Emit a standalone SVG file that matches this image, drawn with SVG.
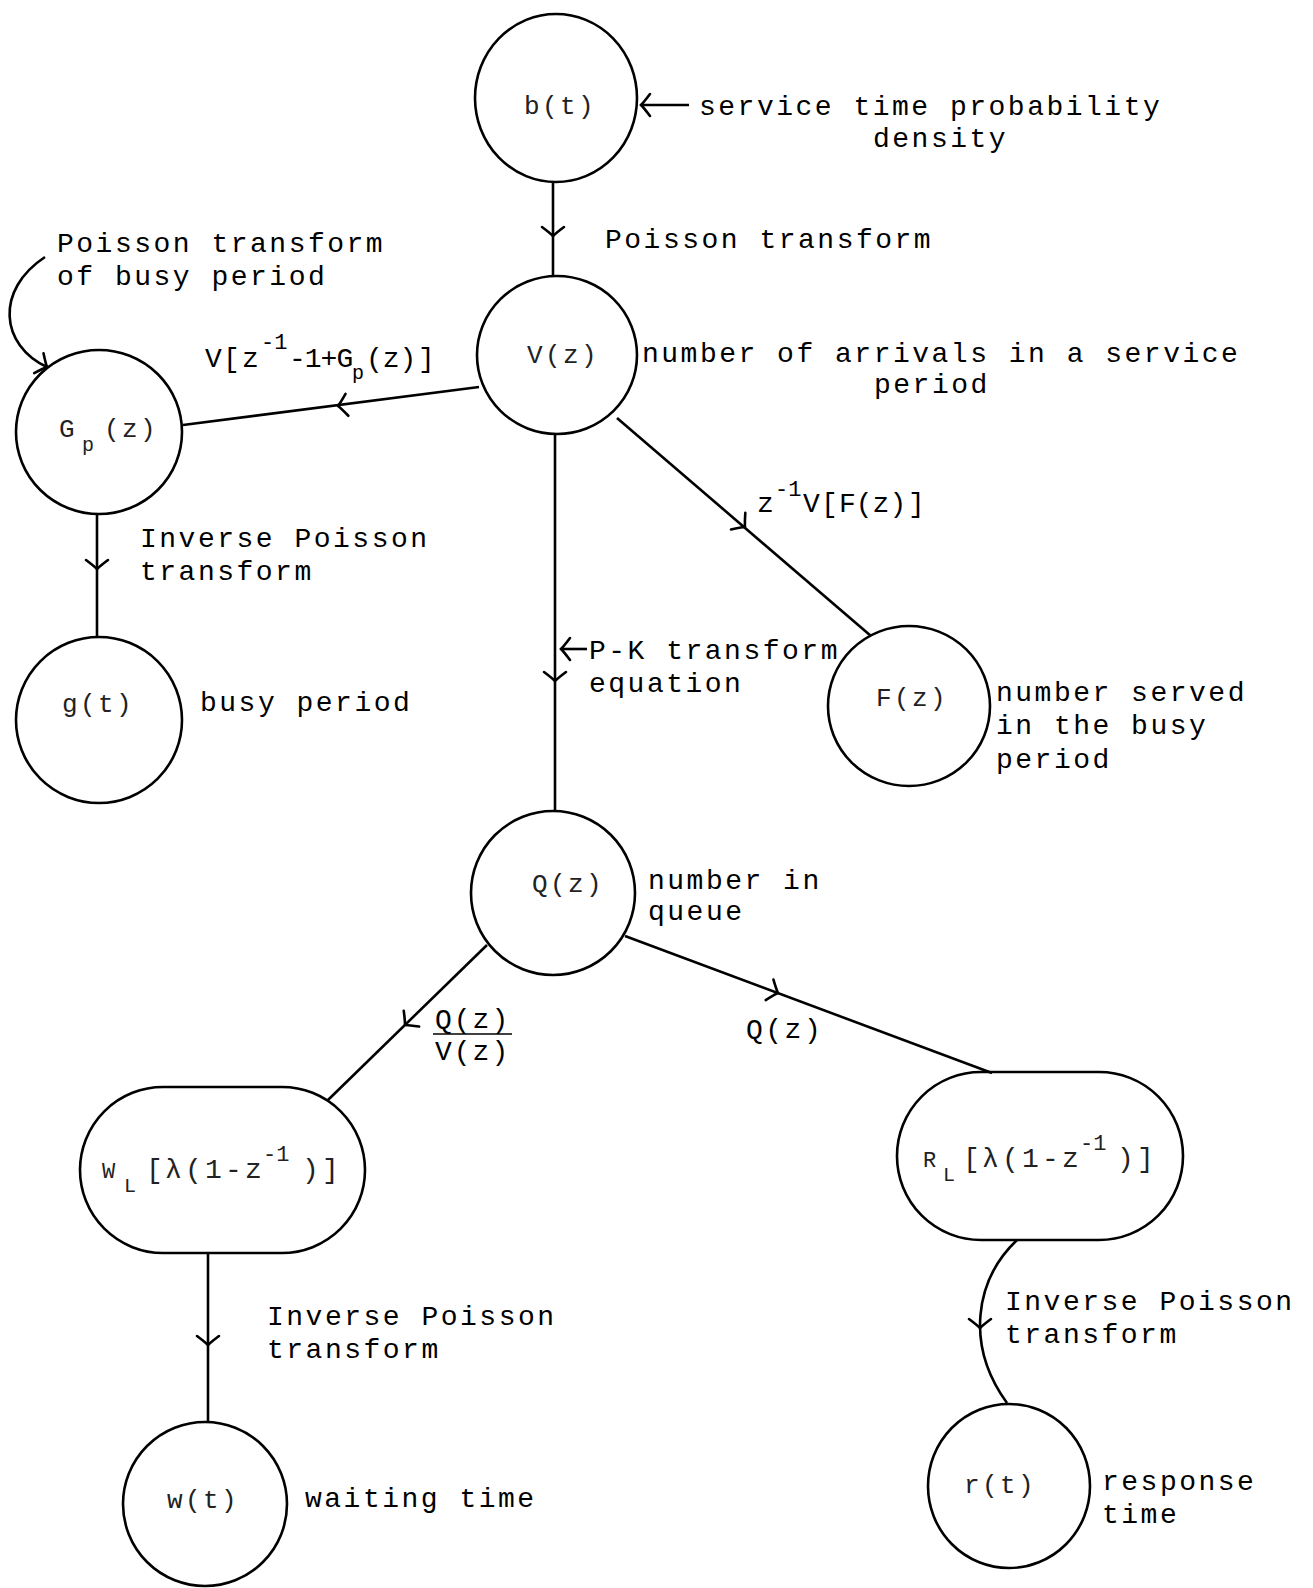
<svg xmlns="http://www.w3.org/2000/svg" width="1313" height="1588" viewBox="0 0 1313 1588">
  <style>
    .node { fill: none; stroke: #000; stroke-width: 2.6; }
    .edge { fill: none; stroke: #000; stroke-width: 2.6; }
    .chev { fill: none; stroke: #000; stroke-width: 2.6; stroke-linejoin: round; stroke-linecap: round; }
    text { font-family: "Liberation Mono", "Courier New", monospace; fill: #000; }
    .lab { font-size: 28px; letter-spacing: 2.5px; }
    .nl { font-size: 26px; letter-spacing: 2.4px; fill: #222; }
    .sup { font-size: 22px; letter-spacing: 0px; }
    .sub { font-size: 20px; letter-spacing: 0px; }
  </style>
  <defs>
    <!-- open chevron pointing along +x, used mid-line -->
    <path id="chev" class="chev" d="M-9,-11 Q-3,-3 0,0 Q-3,3 -9,11"/>
    <marker id="endChev" markerUnits="userSpaceOnUse" markerWidth="26" markerHeight="26" viewBox="-13 -13 26 26" refX="0" refY="0" orient="auto">
      <path d="M-9,-11 Q-3,-3 0,0 Q-3,3 -9,11" fill="none" stroke="#000" stroke-width="2.6" stroke-linecap="round"/>
    </marker>
  </defs>

  <rect width="1313" height="1588" fill="#fff"/>

  <!-- connectors -->
  <g id="connectors">
    <!-- b(t) -> V(z) -->
    <line class="edge" x1="553" y1="182" x2="553" y2="276"/>
    <use href="#chev" transform="translate(553,236) rotate(90)"/>
    <!-- pointer to b(t) description -->
    <line class="edge" x1="689" y1="105" x2="641" y2="105" marker-end="url(#endChev)"/>
    <!-- V(z) -> Gp(z) -->
    <line class="edge" x1="479" y1="387" x2="183" y2="425"/>
    <use href="#chev" transform="translate(338,406) rotate(172.7)"/>
    <!-- pointer to Gp(z) description -->
    <path class="edge" d="M45,257 C-5,290 0,345 47,367" marker-end="url(#endChev)"/>
    <!-- Gp(z) -> g(t) -->
    <line class="edge" x1="97" y1="514" x2="97" y2="636"/>
    <use href="#chev" transform="translate(97,569) rotate(90)"/>
    <!-- V(z) -> Q(z) -->
    <line class="edge" x1="555" y1="434" x2="555" y2="812"/>
    <use href="#chev" transform="translate(555,681) rotate(90)"/>
    <!-- pointer to P-K label -->
    <line class="edge" x1="587" y1="649" x2="561" y2="649" marker-end="url(#endChev)"/>
    <!-- V(z) -> F(z) -->
    <line class="edge" x1="617" y1="418" x2="871" y2="636"/>
    <use href="#chev" transform="translate(745,527) rotate(40.6)"/>
    <!-- Q(z) -> W_L -->
    <line class="edge" x1="487" y1="945" x2="328" y2="1100"/>
    <use href="#chev" transform="translate(405,1025) rotate(135.7)"/>
    <!-- Q(z) -> R_L -->
    <line class="edge" x1="625" y1="936" x2="992" y2="1073"/>
    <use href="#chev" transform="translate(778,993) rotate(20.6)"/>
    <!-- W_L -> w(t) -->
    <line class="edge" x1="208" y1="1253" x2="208" y2="1422"/>
    <use href="#chev" transform="translate(208,1345) rotate(90)"/>
    <!-- R_L -> r(t) -->
    <path class="edge" d="M1017,1240 C975,1280 965,1345 1007,1403"/>
    <use href="#chev" transform="translate(980,1328) rotate(90)"/>
  </g>

  <!-- edge labels -->
  <g id="edge-labels">
    <text class="lab" x="605" y="248">Poisson transform</text>
    <text class="lab" x="57" y="252">Poisson transform</text>
    <text class="lab" x="57" y="285">of busy period</text>
    <text class="lab" style="letter-spacing:0px">
      <tspan x="205" y="367">V</tspan><tspan x="223" y="367">[</tspan><tspan x="242" y="367">z</tspan><tspan x="261" y="349" class="sup">-1</tspan><tspan x="289" y="367" style="letter-spacing:-1px">-1+G</tspan><tspan x="352" y="379" class="sub">p</tspan><tspan x="366" y="367">(z)</tspan><tspan x="418" y="367">]</tspan>
    </text>
    <text class="lab" x="140" y="547">Inverse Poisson</text>
    <text class="lab" x="140" y="580">transform</text>
    <text class="lab" style="letter-spacing:0px">
      <tspan x="757" y="512">z</tspan><tspan x="775" y="496" class="sup">-1</tspan><tspan x="803" y="512">V</tspan><tspan x="821" y="512">[</tspan><tspan x="839" y="512">F(z)</tspan><tspan x="908" y="512">]</tspan>
    </text>
    <text class="lab" x="589" y="659">P-K transform</text>
    <text class="lab" x="589" y="692">equation</text>
    <text class="lab" x="435" y="1028" style="letter-spacing:2px">Q(z)</text>
    <line x1="433" y1="1034" x2="512" y2="1034" stroke="#000" stroke-width="1.6"/>
    <text class="lab" x="435" y="1060" style="letter-spacing:2px">V(z)</text>
    <text class="lab" x="746" y="1038">Q(z)</text>
    <text class="lab" x="267" y="1325">Inverse Poisson</text>
    <text class="lab" x="267" y="1358">transform</text>
    <text class="lab" x="1005" y="1310">Inverse Poisson</text>
    <text class="lab" x="1005" y="1343">transform</text>
  </g>

  <!-- nodes -->
  <g id="node-b">
    <ellipse class="node" cx="556" cy="98" rx="81" ry="84"/>
    <text class="nl" x="524" y="114">b(t)</text>
    <text class="lab" x="699" y="115">service time probability</text>
    <text class="lab" x="873" y="147">density</text>
  </g>

  <g id="node-V">
    <ellipse class="node" cx="557" cy="355" rx="80" ry="79"/>
    <text class="nl" x="527" y="363">V(z)</text>
    <text class="lab" x="642" y="362">number of arrivals in a service</text>
    <text class="lab" x="874" y="393">period</text>
  </g>

  <g id="node-Gp">
    <ellipse class="node" cx="99" cy="432" rx="83" ry="82"/>
    <text class="nl"><tspan x="59" y="437">G</tspan><tspan x="82" y="451" class="sub">p</tspan><tspan x="104" y="437">(z)</tspan></text>
  </g>

  <g id="node-g">
    <ellipse class="node" cx="99" cy="720" rx="83" ry="83"/>
    <text class="nl" x="62" y="712">g(t)</text>
    <text class="lab" x="200" y="711">busy period</text>
  </g>

  <g id="node-F">
    <ellipse class="node" cx="909" cy="706" rx="81" ry="80"/>
    <text class="nl" x="876" y="706">F(z)</text>
    <text class="lab" x="996" y="701">number served</text>
    <text class="lab" x="996" y="734">in the busy</text>
    <text class="lab" x="996" y="768">period</text>
  </g>

  <g id="node-Q">
    <ellipse class="node" cx="553" cy="893" rx="82" ry="82"/>
    <text class="nl" x="532" y="892">Q(z)</text>
    <text class="lab" x="648" y="889">number in</text>
    <text class="lab" x="648" y="920">queue</text>
  </g>

  <g id="node-WL">
    <rect class="node" x="80" y="1087" width="285" height="166" rx="83" ry="83"/>
    <text class="nl" style="font-size:28px;letter-spacing:0px">
      <tspan x="102" y="1178" style="font-size:22px">W</tspan><tspan x="124" y="1192" class="sub">L</tspan><tspan x="146" y="1178">[</tspan><tspan x="165" y="1178" style="letter-spacing:3.2px">λ(1-z</tspan><tspan x="263" y="1161" class="sup">-1</tspan><tspan x="302" y="1178">)</tspan><tspan x="322" y="1178">]</tspan>
    </text>
    <text class="lab" x="305" y="1507">waiting time</text>
  </g>

  <g id="node-RL">
    <rect class="node" x="897" y="1072" width="286" height="168" rx="84" ry="84"/>
    <text class="nl" style="font-size:28px;letter-spacing:0px">
      <tspan x="923" y="1167" style="font-size:22px">R</tspan><tspan x="943" y="1181" class="sub">L</tspan><tspan x="963" y="1167">[</tspan><tspan x="982" y="1167" style="letter-spacing:3.2px">λ(1-z</tspan><tspan x="1080" y="1150" class="sup">-1</tspan><tspan x="1117" y="1167">)</tspan><tspan x="1137" y="1167">]</tspan>
    </text>
  </g>

  <g id="node-w">
    <ellipse class="node" cx="205" cy="1504" rx="82" ry="82"/>
    <text class="nl" x="167" y="1508">w(t)</text>
  </g>

  <g id="node-r">
    <ellipse class="node" cx="1009" cy="1486" rx="81" ry="82"/>
    <text class="nl" x="964" y="1493">r(t)</text>
    <text class="lab" x="1102" y="1490">response</text>
    <text class="lab" x="1102" y="1523">time</text>
  </g>
</svg>
